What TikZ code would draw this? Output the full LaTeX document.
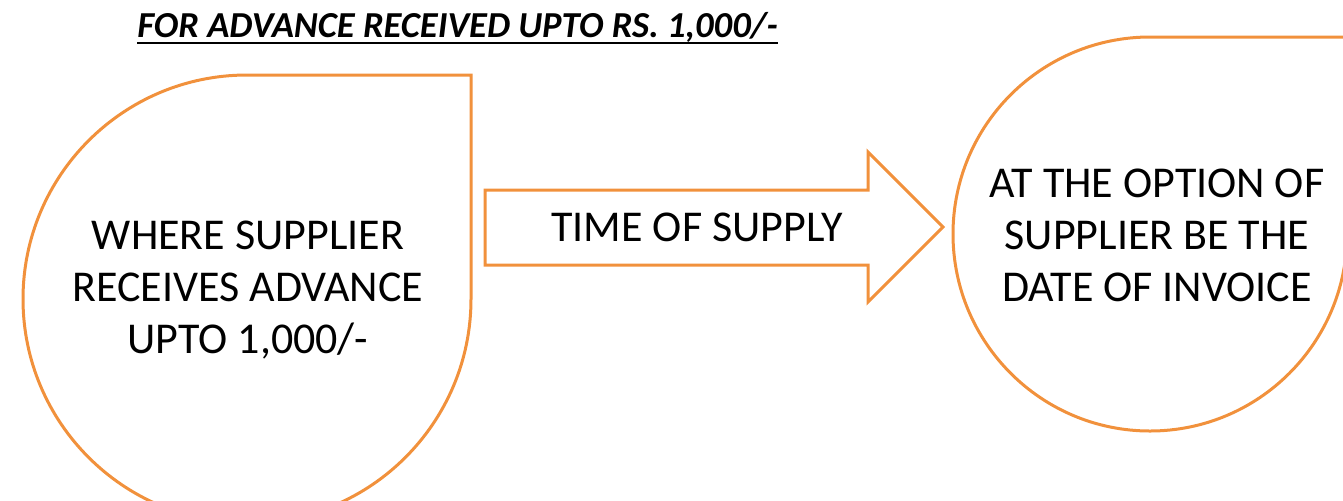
\documentclass[tikz,border=0pt]{standalone}
\usepackage{fontspec}
\setmainfont{Carlito}
\usepackage{tikz}
\definecolor{GSTorange}{RGB}{241,145,60}
\tikzset{drop/.style={draw=GSTorange, line width=1.5pt}}
\tikzset{droptext/.style={align=center, font=\fontsize{22}{26}\selectfont, inner sep=0pt}}
\tikzset{heading/.style={font=\fontsize{18.3}{22}\selectfont\bfseries\itshape, inner sep=0pt, anchor=base west}}
\tikzset{block/.style={draw=GSTorange, line width=1.5pt, line join=miter}}

\begin{document}
\begin{tikzpicture}[x=0.5pt,y=0.5pt]
        \clip (0,0) rectangle (1343,-500);
        \node[heading] (title) at (137,-37) {FOR ADVANCE RECEIVED UPTO RS. 1,000/-};
        \draw[line width=1.3pt] ([yshift=-3pt]title.base west) -- ([yshift=-3pt]title.base east);

        \draw[drop] (471,-75) -- (471,-299) arc[start angle=0,end angle=-270,radius=224] -- cycle;
        \node[droptext] (supplier) at (248,-290) {WHERE SUPPLIER\\RECEIVES ADVANCE\\UPTO 1,000/-};

        \draw[block] (485,-190) -- (868,-190) -- (868,-152) -- (943,-227) -- (868,-302) -- (868,-265) -- (485,-265) -- cycle;
        \node[droptext] (tos) at (697,-227) {TIME OF SUPPLY};

        \draw[drop] (1347,-37) -- (1347,-234) arc[start angle=0,end angle=-270,radius=197] -- cycle;
        \node[droptext] (option) at (1157,-235) {AT THE OPTION OF\\SUPPLIER BE THE\\DATE OF INVOICE};

     \end{tikzpicture}
\end{document}
